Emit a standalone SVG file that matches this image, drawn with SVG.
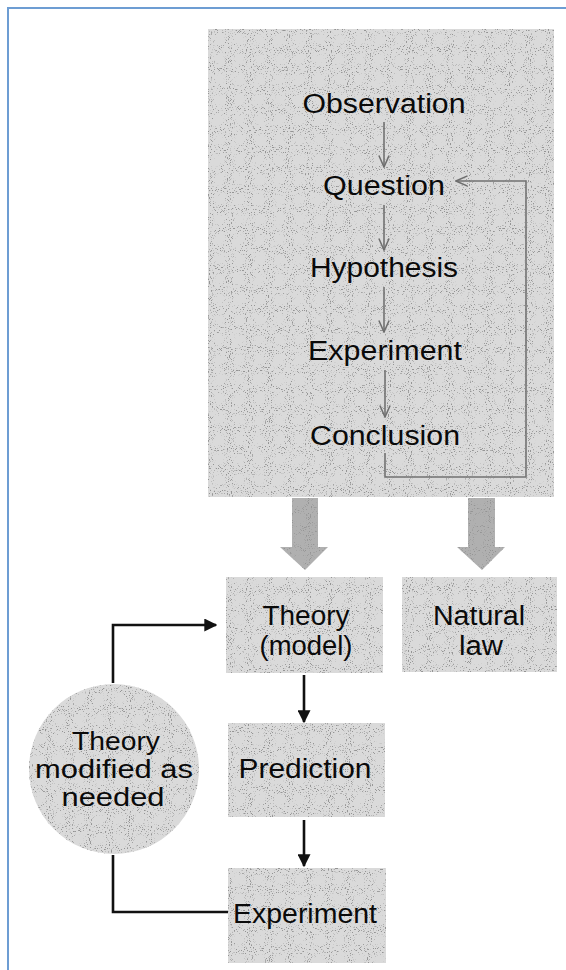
<svg xmlns="http://www.w3.org/2000/svg" width="566" height="970" viewBox="0 0 566 970">
<defs>
<filter id="stip" x="0" y="0" width="100%" height="100%">
<feTurbulence type="fractalNoise" baseFrequency="0.95" numOctaves="1" seed="4" result="n"/>
<feColorMatrix in="n" type="matrix" values="0 0 0 0 0.3  0 0 0 0 0.3  0 0 0 0 0.3  -9 0 0 0 3.6" result="dots"/>
<feComposite in="dots" in2="SourceGraphic" operator="in" result="d"/>
<feMerge><feMergeNode in="SourceGraphic"/><feMergeNode in="d"/></feMerge>
</filter>
<marker id="blk" viewBox="0 0 10 10" refX="9" refY="5" markerWidth="5" markerHeight="5" markerUnits="strokeWidth" orient="auto">
<path d="M0,0 L10,5 L0,10 z" fill="#111"/>
</marker>
<marker id="gry" viewBox="0 0 10 10" refX="9" refY="5" markerWidth="8" markerHeight="8" markerUnits="strokeWidth" orient="auto">
<path d="M0,1 L9,5 L0,9" fill="none" stroke="#6e6e6e" stroke-width="1.2"/>
</marker>
</defs>
<style>
.box{fill:#dadada;filter:url(#stip)}
.fat{fill:#b0b0b0;filter:url(#stip)}
.t{font-family:"Liberation Sans",Arial,Helvetica,sans-serif;font-size:27px;fill:#0a0a0a;text-anchor:middle}
.c{font-size:26px}
.g{fill:none;stroke:#727272;stroke-width:1.6}
.k{fill:none;stroke:#111;stroke-width:2.6}
</style>
<rect width="566" height="970" fill="#fff"/>
<path d="M8,970 V8 H566" fill="none" stroke="#6d9dd3" stroke-width="2"/>

<g id="method">
<rect class="box" x="208" y="29" width="346" height="468"/>
<text class="t" x="384" y="113" textLength="163" lengthAdjust="spacingAndGlyphs">Observation</text>
<text class="t" x="384" y="195" textLength="122" lengthAdjust="spacingAndGlyphs">Question</text>
<text class="t" x="384" y="277" textLength="148" lengthAdjust="spacingAndGlyphs">Hypothesis</text>
<text class="t" x="385" y="360" textLength="154" lengthAdjust="spacingAndGlyphs">Experiment</text>
<text class="t" x="385" y="445" textLength="150" lengthAdjust="spacingAndGlyphs">Conclusion</text>
</g>

<g id="fat-arrows">
<path class="fat" d="M292,498 H318 V547 H328 L305,570 L280,547 H292 Z"/>
<path class="fat" d="M468,498 H495 V547 H505 L482,570 L457,547 H468 Z"/>
</g>

<g id="theory">
<rect class="box" x="226" y="577" width="157" height="96"/>
<text class="t" x="306" y="625" textLength="87" lengthAdjust="spacingAndGlyphs">Theory</text>
<text class="t" x="306" y="655" textLength="93" lengthAdjust="spacingAndGlyphs">(model)</text>
</g>

<g id="natural-law">
<rect class="box" x="402" y="577" width="155" height="95"/>
<text class="t" x="479" y="625" textLength="92" lengthAdjust="spacingAndGlyphs">Natural</text>
<text class="t" x="481" y="655" textLength="44" lengthAdjust="spacingAndGlyphs">law</text>
</g>

<g id="prediction">
<rect class="box" x="228" y="723" width="157" height="94"/>
<text class="t" x="305" y="778" textLength="133" lengthAdjust="spacingAndGlyphs">Prediction</text>
</g>

<g id="experiment2">
<rect class="box" x="228" y="868" width="158" height="95"/>
<text class="t" x="305" y="923" textLength="144" lengthAdjust="spacingAndGlyphs">Experiment</text>
</g>

<g id="modified">
<circle class="box" cx="114" cy="769" r="85"/>
<text class="t c" x="116" y="750" textLength="88" lengthAdjust="spacingAndGlyphs">Theory</text>
<text class="t c" x="114" y="778" textLength="158" lengthAdjust="spacingAndGlyphs">modified as</text>
<text class="t c" x="113" y="806" textLength="103" lengthAdjust="spacingAndGlyphs">needed</text>
</g>

<g id="connectors">
<line class="g" x1="384" y1="122" x2="384" y2="167" marker-end="url(#gry)"/>
<line class="g" x1="384" y1="205" x2="384" y2="250" marker-end="url(#gry)"/>
<line class="g" x1="384" y1="287" x2="384" y2="332" marker-end="url(#gry)"/>
<line class="g" x1="385" y1="370" x2="385" y2="417" marker-end="url(#gry)"/>
<path class="g" d="M385,453 V477 H526 V181 H456" marker-end="url(#gry)"/>
<line class="k" x1="304" y1="675" x2="304" y2="722" marker-end="url(#blk)"/>
<line class="k" x1="304" y1="820" x2="304" y2="866" marker-end="url(#blk)"/>
<path class="k" d="M113,683 V625 H216" marker-end="url(#blk)"/>
<path class="k" d="M113,855 V912 H228"/>
</g>
</svg>
